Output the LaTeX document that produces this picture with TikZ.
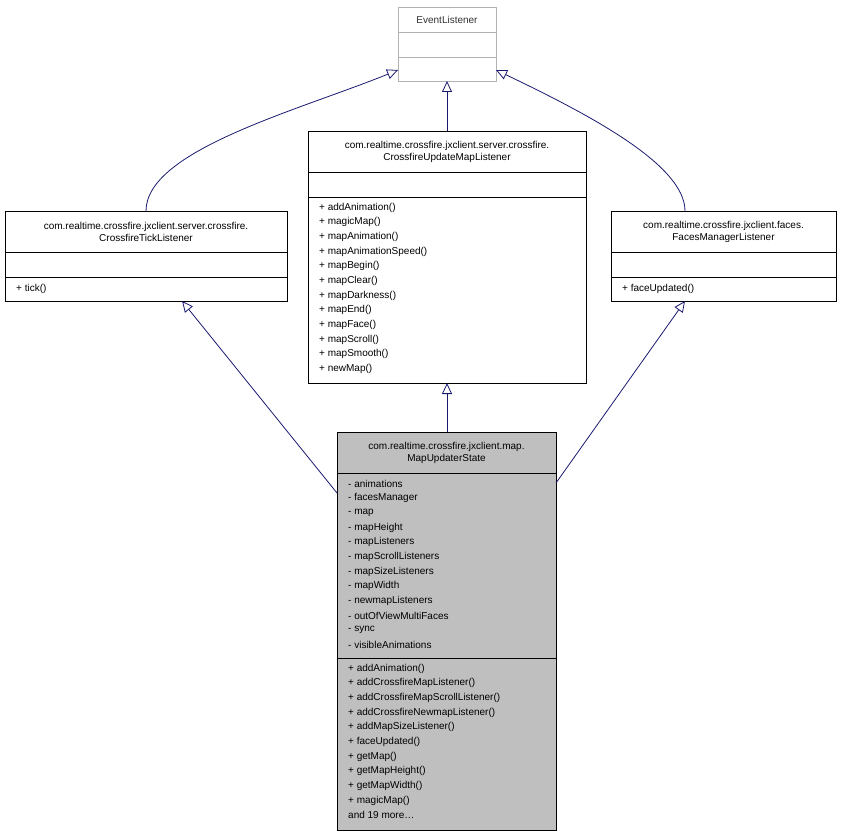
\documentclass[tikz,border=0pt]{standalone}
\usepackage{fontspec}
\setmainfont{Liberation Sans}
\usetikzlibrary{arrows.meta}
\begin{document}
\begin{tikzpicture}[x=1pt,y=-1pt,
  box/.style={draw=black,line width=0.8pt},
  txt/.style={anchor=west,inner sep=0pt,font=\fontsize{10}{12}\selectfont},
  ctxt/.style={anchor=center,inner sep=0pt,font=\fontsize{10}{12}\selectfont,align=center},
  inh/.style={draw={rgb,255:red,25;green,25;blue,112},line width=0.8pt,-{Triangle[open,length=11pt,width=10pt]}}]
\useasboundingbox (0,0) rectangle (843,837);
% EventListener
\draw[draw=gray!60,line width=0.8pt] (398,7) rectangle (496,81);
\draw[draw=gray!60] (398,32)--(496,32) (398,57)--(496,57);
\node[ctxt,text=black!80] (el) at (447,19.5) {EventListener};
\coordinate (elb) at (447,81);
\coordinate (ell) at (398,70);
\coordinate (elr) at (496,70);
% CrossfireUpdateMapListener
\draw[box] (308,131) rectangle (586,383);
\draw (308,172)--(586,172) (308,197)--(586,197);
\node[ctxt] (um) at (447,151.5) {com.realtime.crossfire.jxclient.server.crossfire.\\CrossfireUpdateMapListener};
\coordinate (umt) at (447,131);
\coordinate (umb) at (447,383);
\foreach \t [count=\i] in {addAnimation(),magicMap(),mapAnimation(),mapAnimationSpeed(),mapBegin(),mapClear(),mapDarkness(),mapEnd(),mapFace(),mapScroll(),mapSmooth(),newMap()}
  \node[txt] (um\i) at (319,{193+14.65*\i}) {+ \t};
% Tick
\draw[box] (5,211) rectangle (287,301);
\draw (5,252)--(287,252) (5,277)--(287,277);
\node[ctxt] (tk) at (146,231.5) {com.realtime.crossfire.jxclient.server.crossfire.\\CrossfireTickListener};
\node[txt] (tk1) at (16,288.5) {+ tick()};
\coordinate (tkt) at (146,211);
\coordinate (tkb) at (182,301);
% Faces
\draw[box] (611,211) rectangle (836,301);
\draw (611,252)--(836,252) (611,277)--(836,277);
\node[ctxt] (fm) at (723.5,231.5) {com.realtime.crossfire.jxclient.faces.\\FacesManagerListener};
\node[txt] (fm1) at (622,288.5) {+ faceUpdated()};
\coordinate (fmt) at (685,211);
\coordinate (fmb) at (685,301);
% MapUpdaterState
\draw[box,fill=gray!50] (337,432) rectangle (556,830);
\draw (337,473)--(556,473) (337,658)--(556,658);
\node[ctxt] (ms) at (446.5,452.5) {com.realtime.crossfire.jxclient.map.\\MapUpdaterState};
\foreach \t [count=\i] in {animations,facesManager,map,mapHeight,mapListeners,mapScrollListeners,mapSizeListeners,mapWidth,newmapListeners,outOfViewMultiFaces,sync,visibleAnimations}
  \node[txt] (msa\i) at (348,{469+14.65*\i}) {- \t};
\foreach \t [count=\i] in {addAnimation(),addCrossfireMapListener(),addCrossfireMapScrollListener(),addCrossfireNewmapListener(),addMapSizeListener(),faceUpdated(),getMap(),getMapHeight(),getMapWidth(),magicMap()}
  \node[txt] (msm\i) at (348,{654+14.65*\i}) {+ \t};
\node[txt] (msmore) at (348,{654+14.65*11}) {and 19 more\ldots};
\coordinate (mst) at (447,432);
\coordinate (msl) at (337,493);
\coordinate (msr) at (556,483);
% edges
\draw[inh] (umt) -- (elb);
\draw[inh] (tkt) .. controls (146,150) and (300,110) .. (ell);
\draw[inh] (fmt) .. controls (685,165) and (590,115) .. (elr);
\draw[inh] (mst) -- (umb);
\draw[inh] (msl) -- (tkb);
\draw[inh] (msr) -- (fmb);
\end{tikzpicture}
\end{document}
